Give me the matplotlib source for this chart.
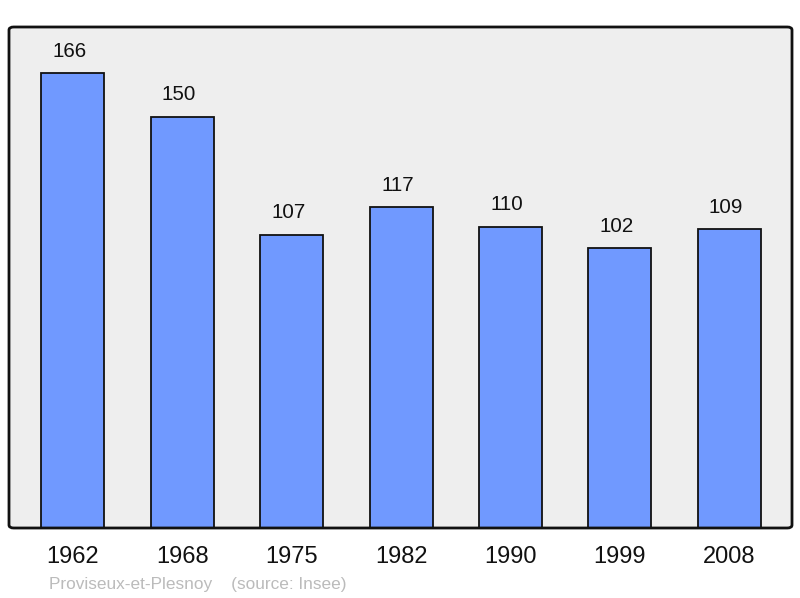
import matplotlib
matplotlib.use("Agg")
import matplotlib.pyplot as plt
from matplotlib.patches import FancyBboxPatch

years = ["1962", "1968", "1975", "1982", "1990", "1999", "2008"]
population = [166, 150, 107, 117, 110, 102, 109]
commune = "Proviseux-et-Plesnoy"
source = "(source: Insee)"

plt.rcParams['font.family'] = ['Liberation Sans', 'DejaVu Sans']

W, H = 800, 598
fig = plt.figure(figsize=(W / 100, H / 100), dpi=100)
ax = fig.add_axes([9 / W, (H - 528) / H, 783 / W, 501 / H])
ax.set_facecolor('#eeeeee')

x = list(range(len(years)))
bars = ax.bar(x, population, width=0.576, color='#7099ff', edgecolor='#111111', linewidth=1.3, zorder=2)
ax.set_xlim(-0.585, 6.575)
ax.set_ylim(0, 182.8)

for xi, v in zip(x, population):
    ax.annotate(str(v), (xi, v), xytext=(-3.5, 22), textcoords='offset pixels',
                ha='center', va='center', fontsize=14.8, color='#111111')

ax.set_xticks(x)
ax.set_xticklabels(years, fontsize=17, color='#111111')
ax.tick_params(axis='x', length=0, pad=13)
ax.set_yticks([])
for s in ax.spines.values():
    s.set_visible(False)

border = FancyBboxPatch((0, 0), 1, 1, boxstyle="round,pad=0,rounding_size=0.006",
                        transform=ax.transAxes, fill=False, edgecolor='#111111',
                        linewidth=2, zorder=5, clip_on=False)
ax.add_patch(border)

fig.text(49 / W, 1 - 584 / H, commune + "    " + source, fontsize=12.4,
         color='#bbbbbb', ha='left', va='center')

fig.savefig('out.png', dpi=100)
